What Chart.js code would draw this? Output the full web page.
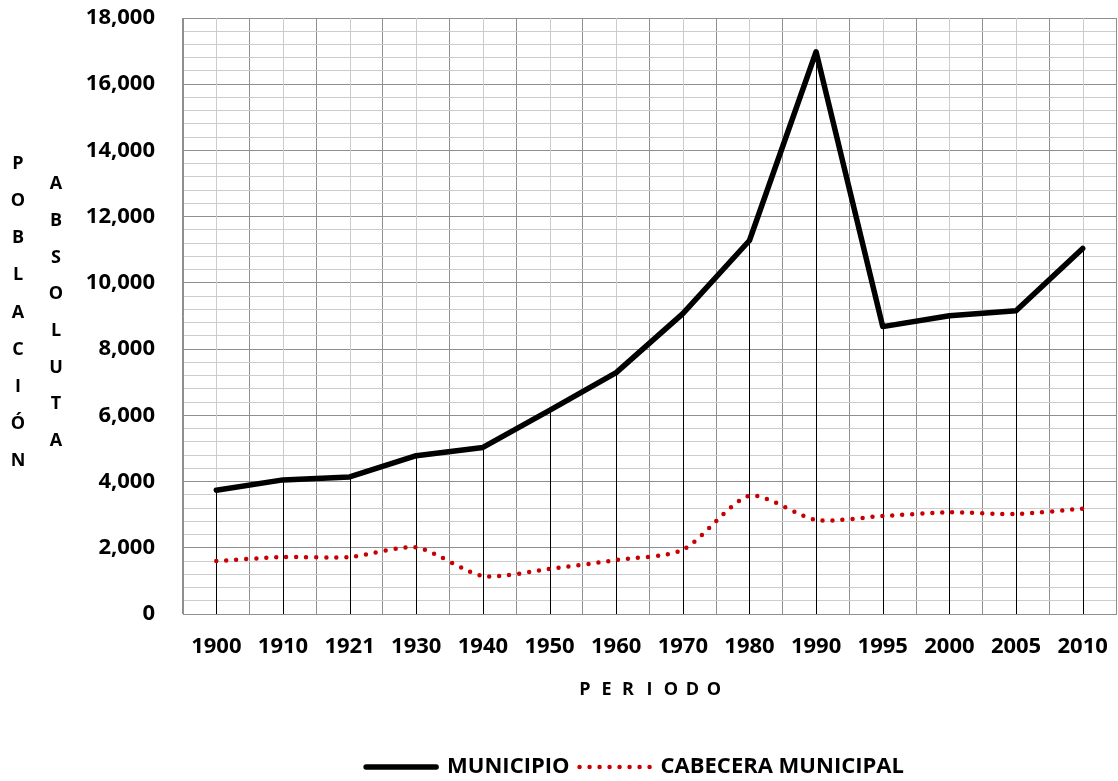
<!DOCTYPE html>
<html>
<head>
<meta charset="utf-8">
<script src="https://cdn.jsdelivr.net/npm/chart.js@4/dist/chart.umd.min.js"></script>
<style>
  html, body { margin: 0; padding: 0; background: #fff; }
  #wrap { width: 1118px; height: 781px; position: relative; }
</style>
</head>
<body>
<div id="wrap"><canvas id="c"></canvas></div>
<script>
const categories = ['1900','1910','1921','1930','1940','1950','1960','1970','1980','1990','1995','2000','2005','2010'];
const municipio = [3740, 4050, 4140, 4780, 5030, 6150, 7290, 9070, 11280, 16980, 8680, 9010, 9160, 11040];
const cabecera  = [1600, 1720, 1720, 2010, 1150, 1360, 1630, 1940, 3570, 2840, 2960, 3070, 3020, 3180];
const yTitleLeft = ['P','O','B','L','A','C','I','Ó','N'];
const yTitleRight = ['A','B','S','O','L','U','T','A'];
const xTitle = ['P','E','R','I','O','D','O'];

const FONT = "'Open Sans', 'DejaVu Sans', sans-serif";

const extras = {
  id: 'extras',
  afterLayout(chart) {
    const lg = chart.legend;
    if (lg) { lg.left += 37; lg.right += 37; lg.top += 7; lg.bottom += 7; }
  },
  beforeDatasetsDraw(chart) {
    const ctx = chart.ctx, x = chart.scales.x, y = chart.scales.y;
    const top = chart.chartArea.top, bottom = chart.chartArea.bottom;
    ctx.save();
    categories.forEach((c, i) => {
      const px = Math.round(x.getPixelForValue(i)) + 0.5;
      ctx.strokeStyle = '#cccccc';
      ctx.lineWidth = 1;
      ctx.beginPath(); ctx.moveTo(px, top); ctx.lineTo(px, bottom); ctx.stroke();
      const py = y.getPixelForValue(Math.max(municipio[i], cabecera[i]));
      ctx.strokeStyle = '#000000';
      ctx.beginPath(); ctx.moveTo(px, py); ctx.lineTo(px, bottom); ctx.stroke();
    });
    ctx.restore();
  },
  afterDraw(chart) {
    const ctx = chart.ctx;
    ctx.save();
    ctx.fillStyle = '#000';
    ctx.textAlign = 'center';
    ctx.textBaseline = 'middle';
    ctx.font = "700 18px " + FONT;
    yTitleLeft.forEach((t, i) => ctx.fillText(t, 18, 164 + i * 37.1));
    yTitleRight.forEach((t, i) => ctx.fillText(t, 56, 184 + i * 36.7));
    ctx.font = "700 18px " + FONT;
    xTitle.forEach((t, i) => ctx.fillText(t, 585 + i * 21.5, 690));
    ctx.restore();
  }
};

new Chart(document.getElementById('c'), {
  type: 'line',
  data: {
    labels: categories,
    datasets: [
      {
        label: 'MUNICIPIO',
        data: municipio,
        borderColor: '#000000',
        backgroundColor: '#000000',
        borderWidth: 5.5,
        borderCapStyle: 'round',
        borderJoinStyle: 'round',
        pointRadius: 0,
        tension: 0,
        fill: false
      },
      {
        label: 'CABECERA MUNICIPAL',
        data: cabecera,
        borderColor: '#c80000',
        backgroundColor: '#c80000',
        borderWidth: 4.5,
        borderDash: [0, 10],
        borderCapStyle: 'round',
        pointRadius: 0,
        tension: 0.25,
        fill: false
      }
    ]
  },
  options: {
    responsive: true,
    maintainAspectRatio: false,
    animation: false,
    layout: { padding: { left: 80, right: 2, top: 18, bottom: 0 } },
    plugins: {
      tooltip: { enabled: false },
      legend: {
        position: 'bottom',
        labels: {
          boxWidth: 70,
          boxHeight: 0,
          padding: 10,
          color: '#000',
          font: { family: FONT, size: 22, weight: '700' }
        }
      }
    },
    scales: {
      x: {
        type: 'category',
        offset: true,
        grid: { offset: true, color: '#8f8f8f', lineWidth: 1, drawTicks: false },
        border: { display: true, color: '#8f8f8f' },
        ticks: { color: '#000', padding: 20, font: { family: FONT, size: 22, weight: '700' }, maxRotation: 0 },
        afterFit(s) { s.height = 125; s.paddingLeft = 0; s.paddingRight = 0; }
      },
      y: {
        min: 0, max: 18000,
        grid: {
          drawTicks: false,
          color: (c) => (c.tick && c.tick.value % 2000 === 0) ? '#8f8f8f' : '#cccccc',
          lineWidth: 1
        },
        border: { display: true, color: '#8f8f8f' },
        ticks: {
          stepSize: 400,
          autoSkip: false,
          padding: 28,
          color: '#000',
          font: { family: FONT, size: 22, weight: '700' },
          callback: (v) => (v % 2000 === 0) ? v.toLocaleString('en-US') : ''
        },
        afterFit(s) { s.width = 103; s.paddingTop = 0; s.paddingBottom = 0; }
      }
    }
  },
  plugins: [extras]
});
</script>
</body>
</html>
